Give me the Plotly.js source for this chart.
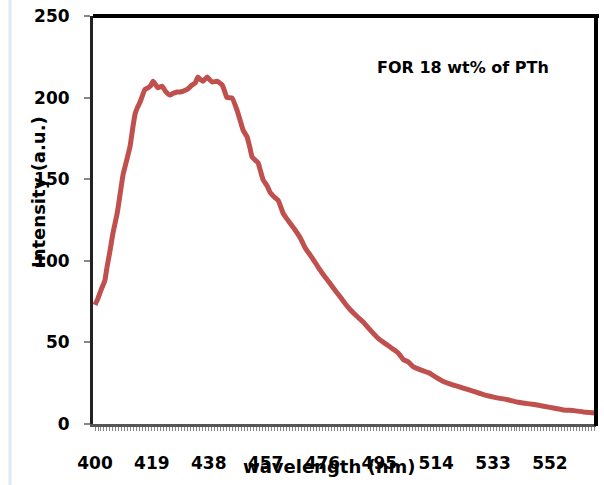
<!DOCTYPE html>
<html>
<head>
<meta charset="utf-8">
<script src="https://cdn.plot.ly/plotly-3.0.1.min.js"></script>
<style>html,body{margin:0;padding:0;background:#fff;}#chart{width:604px;height:485px;}</style>
</head>
<body>
<div id="chart"></div>
<script>
// wavelength (nm)
var wavelength = [400,401,402,403.3,404,405,406,407.4,408.4,409.4,410.5,411.7,412.5,413.4,414.2,415,416,416.7,417.7,418.5,419.4,420.2,421,422.4,423.5,425,426,427.4,428.4,429.5,430.8,432.4,433.5,434.4,435.3,436.1,437.5,438.3,439.1,440.8,441.7,442.5,443.3,444.1,445.8,447.5,448.5,449.5,450.8,451.8,452.5,454.5,455.2,456.2,457.5,458.5,460,461.2,462.9,464,465.2,466.8,468.6,470.2,471.9,473.2,474.6,476.5,478.6,480.2,481.9,483.5,485.3,487.5,489.6,492,494.3,496,497.7,499.5,501.3,503,504.7,506.4,509,512,514,516.4,519.5,523,526.5,529.8,532,534.4,537.5,541,544.5,547.8,552,556.5,560,563.2,567.2];
// intensity (a.u.)
var intensity = [73,77,82,88,96,106,117,129,141,153,161,170,180,190,194,197,202,205,206,207,210,208,206,207,204,201.6,202.5,203.4,203.4,204,205,207.7,209,212.6,211,210,212.6,211,209.6,210,209,207.7,204,200,199.8,192,186,180,176,169,163.6,160,155.6,149.5,146,142,139,137,129,126,123,119,114,108,103.5,100,96,91,86,82,78,74,70,66,62.5,57.5,53,50.5,48.4,46,43.5,39.5,38,35,33,31,28.5,26,24,22,20,18,17,16,15,13.5,12.5,11.6,10.2,8.6,8.2,7.4,6.7];
var xTickVals = [400,419,438,457,476,495,514,533,552];
var yTickVals = [0,50,100,150,200,250];

var fnt = 'DejaVu Sans, sans-serif';
var trace = {
  x: wavelength, y: intensity, type: 'scatter', mode: 'lines',
  line: {color: '#C0504D', width: 5, shape: 'spline', smoothing: 0.4}, hoverinfo: 'skip'
};
var layout = {
  width: 604, height: 485,
  margin: {l: 93, r: 8, t: 16, b: 61},
  paper_bgcolor: '#ffffff', plot_bgcolor: '#ffffff',
  showlegend: false,
  font: {family: fnt, color: '#000'},
  xaxis: {
    range: [399.33, 567.4], showgrid: false, zeroline: false,
    showline: true, linecolor: '#555', linewidth: 3,
    tickmode: 'array', tickvals: xTickVals, ticktext: xTickVals.map(String),
    ticks: 'outside', ticklen: 4, tickcolor: '#888', tickwidth: 1,
    minor: {dtick: 1, tick0: 400, ticks: 'outside', ticklen: 4, tickcolor: '#888', tickwidth: 1, showgrid: false},
    ticklabelstandoff: 18,
    tickfont: {family: fnt, size: 17, color: '#000', weight: 'bold'},
    title: {text: ''}
  },
  yaxis: {
    range: [0, 250], showgrid: false, zeroline: false,
    showline: true, linecolor: '#222', linewidth: 3,
    tickmode: 'array', tickvals: yTickVals, ticktext: yTickVals.map(String),
    ticks: 'outside', ticklen: 6, tickcolor: '#888', tickwidth: 2,
    ticklabelstandoff: 11,
    tickfont: {family: fnt, size: 17, color: '#000', weight: 'bold'},
    title: {text: ''}
  },
  annotations: [
    {xref: 'paper', yref: 'paper', x: 0.735, y: 0.875, xanchor: 'center', yanchor: 'middle',
     text: '<b>FOR 18 wt% of PTh</b>', showarrow: false, font: {family: fnt, size: 16, color: '#000'}},
    {xref: 'paper', yref: 'paper', x: (38 - 93) / 503, y: (424 - 192) / 408, xanchor: 'center', yanchor: 'middle',
     text: '<b>Intensity (a.u.)</b>', textangle: -90, showarrow: false, font: {family: fnt, size: 18, color: '#000'}},
    {xref: 'paper', yref: 'paper', x: (329 - 93) / 503, y: (424 - 466) / 408, xanchor: 'center', yanchor: 'middle',
     text: '<b>wavelength (nm)</b>', showarrow: false, font: {family: fnt, size: 18, color: '#000'}}
  ],
  shapes: [
    {type: 'line', xref: 'paper', yref: 'paper', x0: 0, x1: 1.006, y0: 1, y1: 1, line: {color: '#000', width: 4}},
    {type: 'line', xref: 'paper', yref: 'paper', x0: 1, x1: 1, y0: -0.005, y1: 1.005, line: {color: '#000', width: 4}},
    {type: 'line', xref: 'paper', yref: 'paper', x0: (10 - 93) / 503, x1: (10 - 93) / 503, y0: -0.16, y1: 1.05, line: {color: '#dfe7f5', width: 3}}
  ]
};
Plotly.newPlot('chart', [trace], layout, {staticPlot: true, displayModeBar: false});
</script>
</body>
</html>
